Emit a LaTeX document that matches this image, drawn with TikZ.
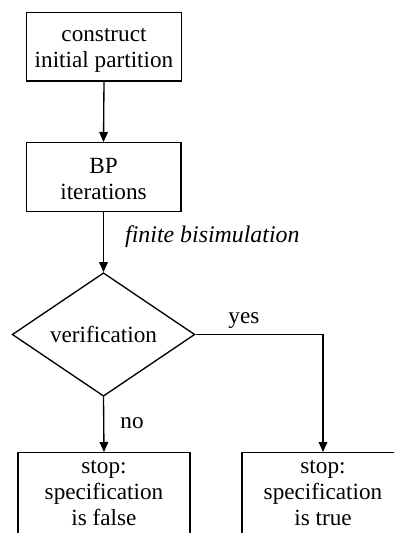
\documentclass[tikz,border=0pt]{standalone}
\usepackage{fontspec}
\setmainfont{Liberation Serif}
\usetikzlibrary{shapes.geometric,arrows.meta}
\begin{document}
\begin{tikzpicture}[x=0.75pt,y=-0.75pt,
  every node/.style={font=\fontsize{17.4}{19.5}\selectfont},
  procbox/.style={draw, line width=1pt, rectangle, align=center, inner sep=0pt,
    minimum width=116pt, minimum height=51.5pt},
  stopbox/.style={draw, line width=1pt, rectangle, align=center, inner xsep=0pt,
    inner ysep=5.5pt, anchor=north, text depth=50pt},
  decide/.style={draw, line width=1pt, diamond, inner sep=0pt,
    minimum width=137pt, minimum height=80pt},
  flow/.style={line width=1pt, -{Triangle[length=7.5pt,width=6.5pt]}},
  lbl/.style={inner sep=0pt}]
\useasboundingbox (0,0) rectangle (394,533);
\clip (0,0) rectangle (394,533);
\node[procbox] (init) at (104,46.5) {\rule{0pt}{16pt}construct\\initial partition};
\node[procbox] (bp) at (103.5,177) {\rule{0pt}{14pt}BP\\iterations};
\node[decide] (ver) at (103.5,334.5) {verification};
\node[stopbox, minimum width=129pt] (sf) at (104,452) {stop:\\specification\\is false};
\node[stopbox, minimum width=121.5pt] (st) at (323,452) {stop:\\specification\\is true};
\draw[flow] (init.south) -- (bp.north);
\draw[flow] (bp.south) -- node[lbl, pos=0.514, anchor=base west, xshift=15.75pt, font=\fontsize{17.9}{19.5}\selectfont\itshape]{finite bisimulation} (ver.north);
\draw[flow] (ver.south) -- node[lbl, pos=0.58, anchor=base west, xshift=12pt]{no} (sf.north);
\draw[flow] (ver.east) -| node[lbl, pos=0.19, anchor=base, yshift=8.6pt]{yes} (st.north);
\end{tikzpicture}
\end{document}
